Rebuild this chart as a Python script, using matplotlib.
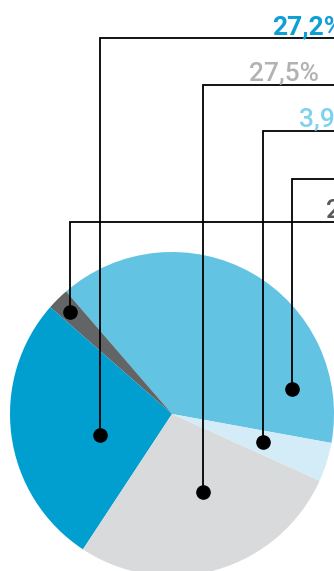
import matplotlib
matplotlib.use("Agg")
import matplotlib.pyplot as plt

# segment shares (percent), counter-clockwise from the pale/light blue border
segments = ["Light blue", "Dark grey", "Blue", "Grey", "Pale blue"]
shares = [39.2, 2.2, 27.2, 27.5, 3.9]
colors = ["#62C3E2", "#636466", "#009FD0", "#D9DADB", "#D3ECF7"]

# callouts, top to bottom
labels = ["27,2%", "27,5%", "3,9%", "39,2%", "2,2%"]
label_colors = ["#0E9FD4", "#B1B2B4", "#7ED1EF", "#62C3E2", "#58595B"]

W, H = 334, 571
fig = plt.figure(figsize=(W / 100, H / 100), dpi=100)
ax = fig.add_axes([0, 0, 1, 1])

# y axis is inverted, so angles run mirrored
ax.pie(shares, colors=colors, center=(172, 414), radius=162,
       startangle=10.3, counterclock=False, frame=True,
       wedgeprops=dict(linewidth=0))
ax.set_xlim(0, W)
ax.set_ylim(H, 0)
ax.set_aspect("equal")
ax.axis("off")

# leader layout (pixel space)
dot_x = [100, 203, 263, 292, 70]
dot_y = [435, 492, 442, 389, 312]
line_y = [38, 85, 131, 179, 222]
text_x = [272, 249, 299, 345, 326]

for i in range(len(labels)):
    ax.plot([dot_x[i], dot_x[i], W + 5], [dot_y[i], line_y[i], line_y[i]],
            color="black", lw=1.3, solid_joinstyle="miter", clip_on=False, zorder=3)
for i in range(len(labels)):
    ax.plot(dot_x[i], dot_y[i], "o", ms=9.5, color="black", zorder=4)
    if text_x[i] < W:
        ax.text(text_x[i], line_y[i] - 4, labels[i], color=label_colors[i],
                fontsize=19, family="Roboto",
                fontweight="bold" if i == 0 else "medium",
                ha="left", va="baseline")

fig.savefig("out.png", dpi=100)
